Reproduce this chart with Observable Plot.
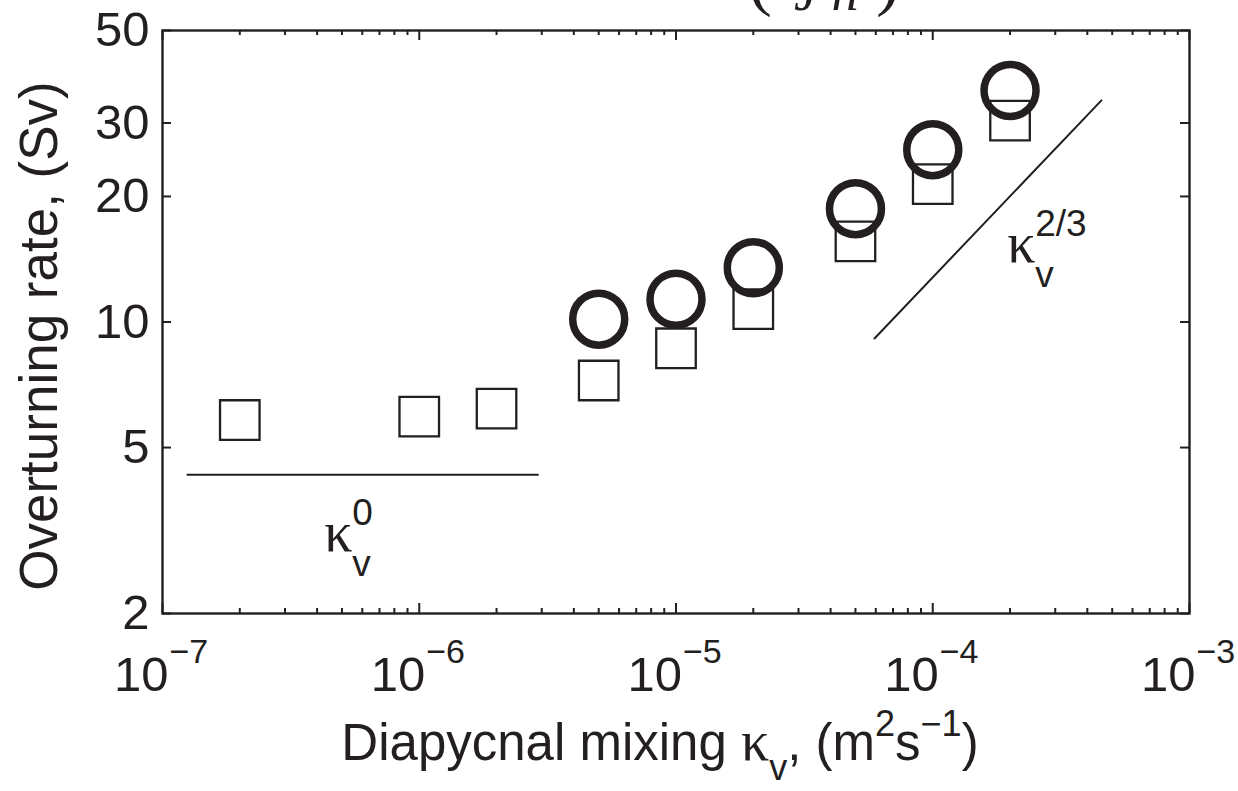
<!DOCTYPE html>
<html>
<head>
<meta charset="utf-8">
<script src="https://cdn.jsdelivr.net/npm/d3@7"></script>
<script src="https://cdn.jsdelivr.net/npm/@observablehq/plot@0.6"></script>
<style>
  html, body { margin: 0; padding: 0; background: #fff; }
  svg { display: block; }
</style>
</head>
<body>
<div id="chart"></div>
<script>
// ---------- data ----------
const kvSquare   = [2e-7, 1e-6, 2e-6, 5e-6, 1e-5, 2e-5, 5e-5, 1e-4, 2e-4];
const rateSquare = [5.82, 5.93, 6.20, 7.24, 8.65, 10.74, 15.6, 21.4, 30.4];
const kvCircle   = [5e-6, 1e-5, 2e-5, 5e-5, 1e-4, 2e-4];
const rateCircle = [10.16, 11.34, 13.5, 18.7, 25.9, 35.9];

// reference scaling lines
const k0LineX  = [1.25e-7, 2.9e-6];
const k0LineY  = [4.3, 4.3];
const k23LineX = [5.93e-5, 4.54e-4];
const k23LineY = [9.13, 34.0];

// annotation anchors (data space)
const annoX   = [4.27e-7, 1.95e-4];
const annoY   = [2.83, 13.9];
const annoSup = ["0", "2/3"];

// ticks
const xTicks      = [1e-7, 1e-6, 1e-5, 1e-4, 1e-3];
const xTickExp    = ["\u22127", "\u22126", "\u22125", "\u22124", "\u22123"];
const yTicks      = [2, 5, 10, 20, 30, 50];
const yTickLabels = ["2", "5", "10", "20", "30", "50"];

// ---------- layout ----------
const W = 1238, H = 791;
const mL = 162, mR = 49, mT = 30, mB = 178;
const fw = W - mL - mR, fh = H - mT - mB;
const ink = "#231f20";
const sans = "'Liberation Sans', Arial, Helvetica, sans-serif";
const serif = "'Liberation Serif', 'Times New Roman', serif";

const xMinor = [];
for (let i = 0; i < xTicks.length - 1; i++) for (let m = 2; m <= 9; m++) xMinor.push(xTicks[i] * m);

const squares = kvSquare.map((k, i) => ({k, v: rateSquare[i]}));
const circles = kvCircle.map((k, i) => ({k, v: rateCircle[i]}));
const k0Line  = k0LineX.map((x, i) => ({x, y: k0LineY[i]}));
const k23Line = k23LineX.map((x, i) => ({x, y: k23LineY[i]}));
const anno    = annoX.map((x, i) => ({x, y: annoY[i], sup: annoSup[i]}));
const xLab    = xTicks.map((t, i) => ({t, e: xTickExp[i]}));
const yLab    = yTicks.map((t, i) => ({t, s: yTickLabels[i]}));

const chart = Plot.plot({
  width: W, height: H,
  marginLeft: mL, marginRight: mR, marginTop: mT, marginBottom: mB,
  x: {type: "log", domain: [1e-7, 1e-3], axis: null},
  y: {type: "log", domain: [2, 50], axis: null},
  style: {background: "#fff", fontFamily: sans, color: ink, overflow: "hidden"},
  marks: [
    // ticks (inward) on all four sides
    Plot.tickX(xTicks, {x: d => d, insetTop: fh - 10, stroke: ink, strokeWidth: 2}),
    Plot.tickX(xTicks, {x: d => d, insetBottom: fh - 10, stroke: ink, strokeWidth: 2}),
    Plot.tickX(xMinor, {x: d => d, insetTop: fh - 5, stroke: ink, strokeWidth: 2}),
    Plot.tickX(xMinor, {x: d => d, insetBottom: fh - 5, stroke: ink, strokeWidth: 2}),
    Plot.tickY(yTicks, {y: d => d, insetRight: fw - 9, stroke: ink, strokeWidth: 2}),
    Plot.tickY(yTicks, {y: d => d, insetLeft: fw - 9, stroke: ink, strokeWidth: 2}),
    Plot.frame({stroke: ink, strokeWidth: 2.4}),

    // x tick labels 10^n
    Plot.text(xLab, {x: "t", frameAnchor: "bottom", text: () => "10", textAnchor: "end",
      lineAnchor: "bottom", dx: 6, dy: 77, fontSize: 49, fill: ink}),
    Plot.text(xLab, {x: "t", frameAnchor: "bottom", text: "e", textAnchor: "start",
      lineAnchor: "bottom", dx: 7, dy: 49, fontSize: 34, fill: ink}),
    // y tick labels
    Plot.text(yLab, {y: "t", frameAnchor: "left", text: "s", textAnchor: "end",
      dx: -13, fontSize: 49, fill: ink}),

    // reference lines
    Plot.line(k0Line, {x: "x", y: "y", stroke: ink, strokeWidth: 2}),
    Plot.line(k23Line, {x: "x", y: "y", stroke: ink, strokeWidth: 2}),

    // data
    Plot.dot(squares, {x: "k", y: "v", symbol: "square", r: 22.3, stroke: ink, strokeWidth: 2.3, fill: "none"}),
    Plot.dot(circles, {x: "k", y: "v", symbol: "circle", r: 26, stroke: ink, strokeWidth: 7.5, fill: "none"}),

    // annotations kappa_v^p
    Plot.text(anno, {x: "x", y: "y", text: () => "\u03ba", fontFamily: serif, fontSize: 56,
      textAnchor: "start", lineAnchor: "bottom", fill: ink}),
    Plot.text(anno, {x: "x", y: "y", text: "sup", fontSize: 37, textAnchor: "start",
      lineAnchor: "bottom", dx: 28, dy: -26, fill: ink}),
    Plot.text(anno, {x: "x", y: "y", text: () => "v", fontSize: 37, textAnchor: "start",
      lineAnchor: "bottom", dx: 28, dy: 25, fill: ink})
  ]
});

document.getElementById("chart").appendChild(chart);
const svg = d3.select(chart);

// y-axis title
svg.append("text")
  .attr("transform", "translate(57,336) rotate(-90)")
  .attr("text-anchor", "middle")
  .attr("font-family", sans).attr("font-size", 53).attr("fill", ink)
  .text("Overturning rate, (Sv)");

// x-axis title with sub/superscripts
const xl = svg.append("text")
  .attr("x", 660).attr("y", 760)
  .attr("text-anchor", "middle")
  .attr("font-family", sans).attr("font-size", 51).attr("fill", ink);
xl.append("tspan").text("Diapycnal mixing ");
xl.append("tspan").attr("font-family", serif).attr("font-size", 56).text("\u03ba");
xl.append("tspan").attr("font-size", 36).attr("dy", 20).text("v");
xl.append("tspan").attr("dy", -20).text(", (m");
xl.append("tspan").attr("font-size", 36).attr("dy", -24).text("2");
xl.append("tspan").attr("dy", 24).text("s");
xl.append("tspan").attr("font-size", 36).attr("dy", -24).text("\u22121");
xl.append("tspan").attr("dy", 24).text(")");

// clipped fragment of the title above the panel (cut off in the reference too)
const tt = svg.append("g").attr("fill", ink).attr("font-family", serif);
tt.append("text").attr("x", 760).attr("y", 2).attr("font-size", 72).text("(");
tt.append("text").attr("x", 806).attr("y", 10).attr("font-size", 54).attr("font-style", "italic").text("J");
tt.append("text").attr("x", 845).attr("y", 10).attr("font-size", 54).attr("font-style", "italic").text("h");
tt.append("text").attr("x", 888).attr("y", 2).attr("font-size", 72).text(")");
</script>
</body>
</html>
